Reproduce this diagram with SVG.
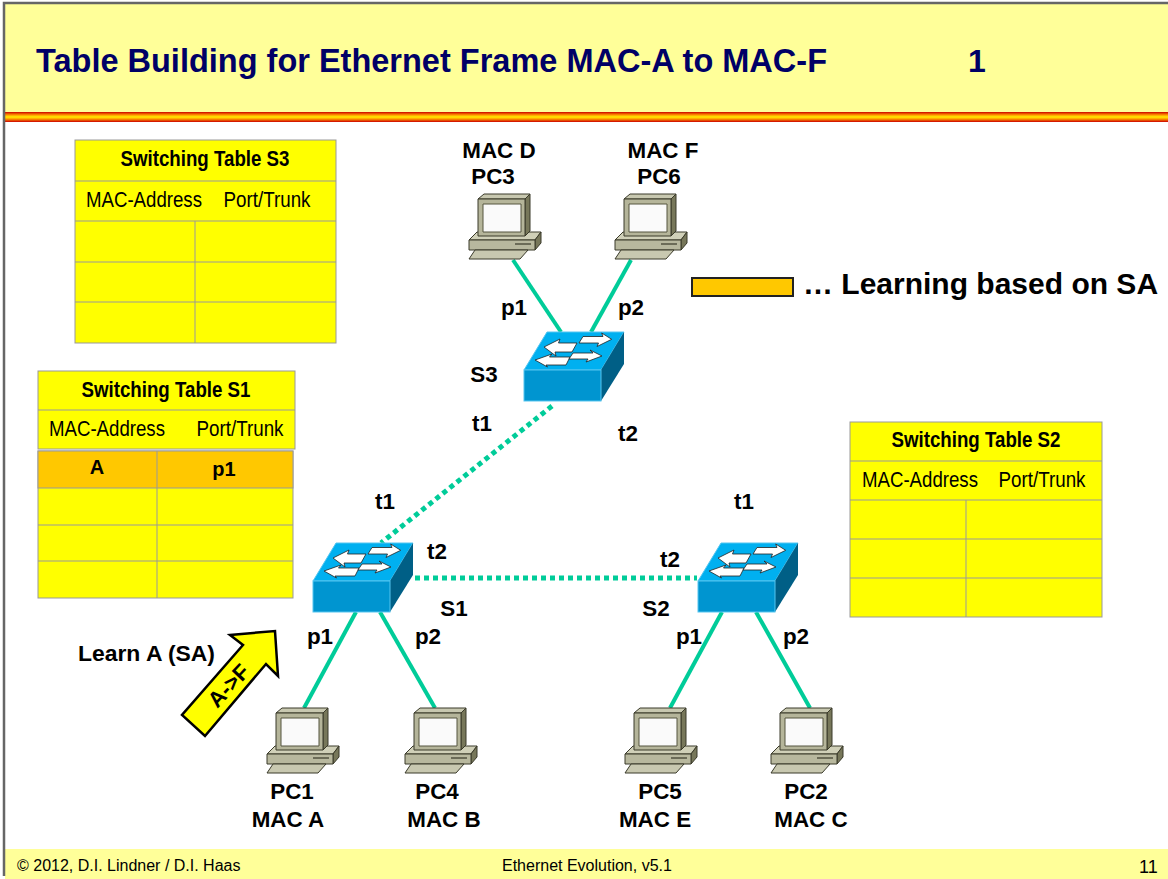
<svg xmlns="http://www.w3.org/2000/svg" width="1168" height="879" viewBox="0 0 1168 879">
<style>
text{font-family:"Liberation Sans",Arial,sans-serif;fill:#000}
.b{font-weight:bold;font-size:22.4px;text-anchor:middle}
.h{font-size:22px;text-anchor:middle}
.tb{stroke:#999;stroke-width:1;fill:#ff0}
.tl{stroke:#999;stroke-width:1;fill:none}
.link{stroke:#00cc99;stroke-width:4;fill:none}
.dot{stroke:#00cc99;stroke-width:5;stroke-dasharray:5 4;fill:none}
</style>
<defs>
<linearGradient id="rule" x1="0" y1="0" x2="0" y2="1">
<stop offset="0" stop-color="#cc0000"/><stop offset=".3" stop-color="#ff9900"/><stop offset=".5" stop-color="#ffee00"/><stop offset=".7" stop-color="#ff9900"/><stop offset="1" stop-color="#cc0000"/>
</linearGradient>
<g id="pc" stroke="#3a3a2a" stroke-width="1" stroke-linejoin="round">
<path d="M0 46L8 38H72L66 46Z" fill="#d0d0b8"/>
<path d="M66 46L72 38V49L66 56Z" fill="#77775a"/>
<rect x="0" y="46" width="66" height="10" fill="#b8b89e"/>
<path d="M46 50H62" stroke-width="1.2"/>
<path d="M0 65L6 56H59L51 65Z" fill="#c8c8b0"/>
<path d="M9 5L15 0H61L56 5Z" fill="#c8c8b0"/>
<path d="M56 5L61 0V37L56 42Z" fill="#77775a"/>
<rect x="9" y="5" width="47" height="37" fill="#b5b59a"/>
<rect x="14" y="10" width="38" height="28" fill="#fafafa" stroke="#55553f"/>
</g>
<g id="switch">
<path d="M0 0L23 -38H100L77 0Z" fill="#00b0f0" stroke="#55c5f0" stroke-width="1"/>
<path d="M77 0L100 -38V-6L77 31Z" fill="#005f86"/>
<rect x="0" y="0" width="77" height="31" fill="#0095d0" stroke="#55c5f0" stroke-width="1"/>
<g fill="#fff" stroke="#222" stroke-width=".8">
<path d="M20 -23L36 -31L34.500 -27H53L48 -18H31L32 -14Z"/>
<path d="M11 -10L28 -16L25.500 -13H46L42 -5H22L23.500 -3Z"/>
<path d="M87.700 -30.700L77.700 -37L79 -33.500H59L55 -27H74.500L73 -23.500Z"/>
<path d="M78 -14L66 -20L69 -17H49L45 -11H64L62 -8Z"/>
</g>
</g>
</defs>

<rect x="0" y="0" width="1168" height="879" fill="#fff"/>
<g id="frame">
<rect x="5" y="4" width="1163" height="108" fill="#ffff99"/>
<rect x="5" y="112" width="1163" height="10" fill="url(#rule)"/>
<rect x="5" y="849" width="1163" height="30" fill="#ffff99"/>
<path d="M4 876V3H1168" fill="none" stroke="#666" stroke-width="2.500"/>
<text x="36" y="72" font-size="32.500" font-weight="bold" style="fill:#000066" textLength="791" lengthAdjust="spacingAndGlyphs">Table Building for Ethernet Frame MAC-A to MAC-F</text>
<text x="968" y="72" font-size="32" font-weight="bold" style="fill:#000066">1</text>
<text x="17" y="871" font-size="16">© 2012, D.I. Lindner / D.I. Haas</text>
<text x="502" y="871" font-size="16">Ethernet Evolution, v5.1</text>
<text x="1139" y="873" font-size="18">11</text>
</g>

<g id="table-s3">
<rect class="tb" x="75" y="140" width="261" height="203"/>
<path class="tl" d="M75 181H336M75 221H336M75 262H336M75 302H336M195 221V343"/>
<text class="h" x="205" y="166" font-weight="bold" font-size="21" textLength="169" lengthAdjust="spacingAndGlyphs">Switching Table S3</text>
<text class="h" x="144" y="207" textLength="116" lengthAdjust="spacingAndGlyphs">MAC-Address</text>
<text class="h" x="267" y="207" textLength="87" lengthAdjust="spacingAndGlyphs">Port/Trunk</text>
</g>
<g id="table-s1">
<rect class="tb" x="38" y="371" width="257" height="78"/>
<path class="tl" d="M38 410H295"/>
<text class="h" x="166" y="397" font-weight="bold" font-size="21" textLength="169" lengthAdjust="spacingAndGlyphs">Switching Table S1</text>
<text class="h" x="107" y="436" textLength="116" lengthAdjust="spacingAndGlyphs">MAC-Address</text>
<text class="h" x="240" y="436" textLength="87" lengthAdjust="spacingAndGlyphs">Port/Trunk</text>
<rect class="tb" x="38" y="451" width="255" height="147"/>
<rect x="38" y="451" width="255" height="37" fill="#ffc800" stroke="#999" stroke-width="1"/>
<path class="tl" d="M38 525H293M38 561H293M157 451V598"/>
<text x="97" y="474" font-size="20" font-weight="bold" text-anchor="middle">A</text>
<text x="224" y="476" font-size="20" font-weight="bold" text-anchor="middle">p1</text>
</g>
<g id="table-s2">
<rect class="tb" x="850" y="422" width="252" height="195"/>
<path class="tl" d="M850 461H1102M850 500H1102M850 539H1102M850 578H1102M966 500V617"/>
<text class="h" x="976" y="447" font-weight="bold" font-size="21" textLength="169" lengthAdjust="spacingAndGlyphs">Switching Table S2</text>
<text class="h" x="920" y="487" textLength="116" lengthAdjust="spacingAndGlyphs">MAC-Address</text>
<text class="h" x="1042" y="487" textLength="87" lengthAdjust="spacingAndGlyphs">Port/Trunk</text>
</g>

<g id="connectors">
<path class="link" d="M513 260L561 332"/>
<path class="link" d="M631 260L591 332"/>
<path class="dot" d="M552 406L381 543"/>
<path class="dot" d="M415 578H697"/>
<path class="link" d="M356 612L304 708"/>
<path class="link" d="M380 612L435 708"/>
<path class="link" d="M722 612L670 708"/>
<path class="link" d="M756 612L810 708"/>
</g>

<g id="s3"><use href="#switch" x="524" y="370"/><text class="b" x="484" y="382">S3</text></g>
<g id="s1"><use href="#switch" x="313" y="581"/><text class="b" x="454" y="616">S1</text></g>
<g id="s2"><use href="#switch" x="698" y="581"/><text class="b" x="656" y="616">S2</text></g>

<g id="pc3"><use href="#pc" x="469" y="194"/><text class="b" x="499" y="158">MAC D</text><text class="b" x="493" y="184">PC3</text></g>
<g id="pc6"><use href="#pc" x="615" y="194"/><text class="b" x="663" y="158">MAC F</text><text class="b" x="659" y="184">PC6</text></g>
<g id="pc1"><use href="#pc" x="267" y="708"/><text class="b" x="292" y="799">PC1</text><text class="b" x="288" y="827">MAC A</text></g>
<g id="pc4"><use href="#pc" x="405" y="708"/><text class="b" x="437" y="799">PC4</text><text class="b" x="444" y="827">MAC B</text></g>
<g id="pc5"><use href="#pc" x="625" y="708"/><text class="b" x="660" y="799">PC5</text><text class="b" x="655" y="827">MAC E</text></g>
<g id="pc2"><use href="#pc" x="771" y="708"/><text class="b" x="806" y="799">PC2</text><text class="b" x="811" y="827">MAC C</text></g>

<g id="port-labels">
<text class="b" x="514" y="315">p1</text><text class="b" x="631" y="315">p2</text>
<text class="b" x="482" y="431">t1</text><text class="b" x="628" y="441">t2</text>
<text class="b" x="385" y="509">t1</text><text class="b" x="437" y="559">t2</text>
<text class="b" x="744" y="509">t1</text><text class="b" x="670" y="567">t2</text>
<text class="b" x="320" y="644">p1</text><text class="b" x="428" y="644">p2</text>
<text class="b" x="689" y="644">p1</text><text class="b" x="796" y="644">p2</text>
</g>

<g id="legend">
<rect x="692" y="278" width="101" height="18" fill="#ffc800" stroke="#222" stroke-width="2"/>
<text x="803" y="294" font-size="30" font-weight="bold">… Learning based on SA</text>
</g>

<g id="learn-arrow">
<text x="78" y="661" font-size="22" font-weight="bold" textLength="137" lengthAdjust="spacingAndGlyphs">Learn A (SA)</text>
<path d="M275 631L278 676L266 664L205 736L182 715L243 645L230 635Z" fill="#ff0" stroke="#000" stroke-width="2.500" stroke-linejoin="miter"/>
<text x="229" y="693" font-size="22" font-weight="bold" text-anchor="middle" transform="rotate(-47 229 686)">A-&gt;F</text>
</g>
</svg>
